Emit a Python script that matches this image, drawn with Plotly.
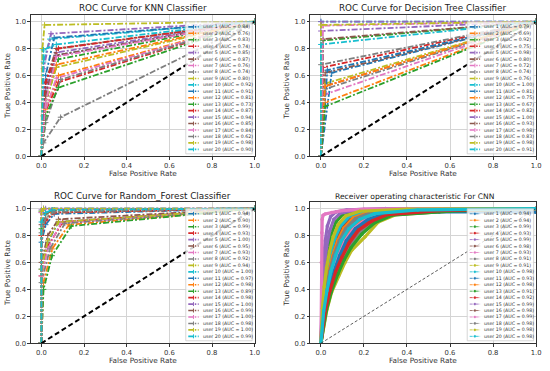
import plotly.graph_objects as go

W, H = 550, 371
FONT = "DejaVu Sans"

users = ["user %d" % i for i in range(1, 21)]
tab10 = ["#1f77b4", "#ff7f0e", "#2ca02c", "#d62728", "#9467bd",
         "#8c564b", "#e377c2", "#7f7f7f", "#bcbd22", "#17becf"]
colors = tab10 + tab10

titles = ["ROC Curve for KNN Classifier", "ROC Curve for Decision Tree Classifier",
          "ROC Curve for Random_Forest Classifier", "Receiver operating characteristic For CNN"]
x_label = "False Positive Rate"
y_label = "True Positive Rate"
tick_vals = [0.0, 0.2, 0.4, 0.6, 0.8, 1.0]
diag = [0.0, 1.0]

# ---------------- KNN ----------------
knn_auc = [0.84, 0.76, 0.83, 0.74, 0.85, 0.87, 0.76, 0.74, 0.80, 0.92,
           0.91, 0.81, 0.73, 0.87, 0.94, 0.85, 0.84, 0.62, 0.98, 0.90]
knn_fpr = [
    [0, 0.02, 0.07, 1], [0, 0.02, 0.08, 1], [0, 0.02, 0.08, 1], [0, 0.01, 0.08, 1],
    [0, 0.02, 0.07, 1], [0, 0.02, 0.07, 1], [0, 0.01, 0.07, 1], [0, 0.02, 0.09, 1],
    [0, 0.02, 0.07, 1], [0, 0.01, 0.04, 1], [0, 0.02, 0.06, 1], [0, 0.02, 0.07, 1],
    [0, 0.02, 0.08, 1], [0, 0.02, 0.08, 1], [0, 0.01, 0.045, 1], [0, 0.02, 0.07, 1],
    [0, 0.02, 0.07, 1], [0, 0.01, 0.09, 1], [0, 0.005, 0.015, 1], [0, 0.01, 0.07, 1]]
knn_tpr = [
    [0, 0.45, 0.75, 1], [0, 0.35, 0.60, 1], [0, 0.40, 0.72, 1], [0, 0.30, 0.55, 1],
    [0, 0.50, 0.77, 1], [0, 0.55, 0.80, 1], [0, 0.30, 0.58, 1], [0, 0.25, 0.57, 1],
    [0, 0.40, 0.66, 1], [0, 0.70, 0.87, 1], [0, 0.60, 0.88, 1], [0, 0.45, 0.68, 1],
    [0, 0.30, 0.51, 1], [0, 0.55, 0.80, 1], [0, 0.65, 0.91, 1], [0, 0.45, 0.75, 1],
    [0, 0.40, 0.74, 1], [0, 0.10, 0.29, 1], [0, 0.80, 0.975, 1], [0, 0.79, 0.83, 1]]

# ---------------- Decision tree ----------------
dt_auc = [0.79, 0.69, 0.92, 0.75, 0.98, 0.80, 0.72, 0.74, 0.76, 1.00,
          0.81, 0.75, 0.67, 0.82, 1.00, 0.93, 0.98, 0.83, 0.98, 0.91]
dt_fpr = [
    [0, 0.05, 1], [0, 0.02, 1], [0, 0.01, 1], [0, 0.02, 1], [0, 0.0, 1],
    [0, 0.02, 1], [0, 0.02, 1], [0, 0.02, 1], [0, 0.02, 1], [0, 0.0, 1],
    [0, 0.03, 1], [0, 0.02, 1], [0, 0.02, 1], [0, 0.01, 1], [0, 0.0, 1],
    [0, 0.01, 1], [0, 0.01, 1], [0, 0.0, 1], [0, 0.0, 1], [0, 0.0, 1]]
dt_tpr = [
    [0, 0.62, 1], [0, 0.40, 1], [0, 0.86, 1], [0, 0.52, 1], [0, 0.93, 1],
    [0, 0.62, 1], [0, 0.46, 1], [0, 0.50, 1], [0, 0.54, 1], [0, 1.00, 1],
    [0, 0.64, 1], [0, 0.52, 1], [0, 0.37, 1], [0, 0.66, 1], [0, 1.00, 1],
    [0, 0.87, 1], [0, 0.97, 1], [0, 0.68, 1], [0, 0.975, 1], [0, 0.83, 1]]

# ---------------- Random forest ----------------
rf_auc = [0.94, 0.90, 0.99, 0.93, 1.00, 0.95, 0.93, 0.92, 0.94, 1.00,
          0.97, 0.98, 0.89, 0.98, 1.00, 0.99, 1.00, 0.98, 1.00, 0.99]
rf_fpr = [
    [0, 0.0, 0.03, 0.08, 1], [0, 0.01, 0.05, 0.13, 1], [0, 0.0, 0.02, 0.06, 1],
    [0, 0.0, 0.03, 0.10, 1], [0, 0.0, 0.02, 1], [0, 0.0, 0.03, 0.08, 1],
    [0, 0.0, 0.03, 0.09, 1], [0, 0.0, 0.04, 0.11, 1], [0, 0.0, 0.03, 0.08, 1],
    [0, 0.0, 0.01, 1], [0, 0.0, 0.02, 0.06, 1], [0, 0.0, 0.02, 0.05, 1],
    [0, 0.01, 0.05, 0.14, 1], [0, 0.0, 0.02, 0.06, 1], [0, 0.0, 0.01, 1],
    [0, 0.0, 0.02, 0.05, 1], [0, 0.0, 0.01, 1], [0, 0.0, 0.02, 0.06, 1],
    [0, 0.0, 0.01, 1], [0, 0.0, 0.02, 0.05, 1]]
rf_tpr = [
    [0, 0.55, 0.75, 0.90, 1], [0, 0.45, 0.70, 0.88, 1], [0, 0.85, 0.96, 0.99, 1],
    [0, 0.50, 0.72, 0.90, 1], [0, 0.97, 1.0, 1], [0, 0.60, 0.80, 0.92, 1],
    [0, 0.50, 0.70, 0.89, 1], [0, 0.45, 0.70, 0.89, 1], [0, 0.55, 0.76, 0.90, 1],
    [0, 0.98, 1.0, 1], [0, 0.75, 0.88, 0.96, 1], [0, 0.80, 0.92, 0.97, 1],
    [0, 0.40, 0.65, 0.87, 1], [0, 0.80, 0.91, 0.97, 1], [0, 0.99, 1.0, 1],
    [0, 0.88, 0.96, 0.99, 1], [0, 0.97, 0.995, 1], [0, 0.82, 0.93, 0.975, 1],
    [0, 0.98, 1.0, 1], [0, 0.90, 0.97, 0.99, 1]]

# ---------------- CNN ----------------
cnn_auc = [0.94, 0.94, 0.99, 0.93, 0.99, 0.98, 0.93, 0.91, 0.91, 0.98,
           0.93, 0.98, 0.91, 0.92, 0.99, 0.98, 0.99, 0.98, 0.98, 0.98]
cnn_fpr = [
    [0, 0.014, 0.03, 0.05, 0.073, 0.10, 0.137, 0.19, 0.26, 0.50, 1],
    [0, 0.015, 0.032, 0.053, 0.077, 0.106, 0.145, 0.20, 0.27, 0.50, 1],
    [0, 0.006, 0.013, 0.022, 0.033, 0.048, 0.07, 0.10, 0.16, 0.35, 1],
    [0, 0.018, 0.039, 0.064, 0.092, 0.125, 0.168, 0.23, 0.30, 0.55, 1],
    [0, 0.004, 0.008, 0.014, 0.02, 0.03, 0.045, 0.07, 0.12, 0.30, 1],
    [0, 0.009, 0.02, 0.034, 0.05, 0.072, 0.10, 0.14, 0.21, 0.40, 1],
    [0, 0.016, 0.034, 0.056, 0.082, 0.112, 0.152, 0.21, 0.28, 0.50, 1],
    [0, 0.022, 0.046, 0.074, 0.105, 0.135, 0.18, 0.23, 0.30, 0.55, 1],
    [0, 0.028, 0.05, 0.082, 0.112, 0.143, 0.205, 0.267, 0.35, 0.60, 1],
    [0, 0.008, 0.018, 0.03, 0.045, 0.065, 0.09, 0.13, 0.20, 0.40, 1],
    [0, 0.017, 0.036, 0.06, 0.087, 0.118, 0.16, 0.22, 0.29, 0.55, 1],
    [0, 0.01, 0.022, 0.037, 0.055, 0.078, 0.107, 0.15, 0.22, 0.42, 1],
    [0, 0.025, 0.048, 0.078, 0.108, 0.14, 0.19, 0.25, 0.33, 0.60, 1],
    [0, 0.02, 0.042, 0.068, 0.098, 0.13, 0.175, 0.24, 0.31, 0.55, 1],
    [0, 0.005, 0.01, 0.018, 0.027, 0.04, 0.06, 0.09, 0.15, 0.35, 1],
    [0, 0.012, 0.026, 0.043, 0.064, 0.09, 0.122, 0.17, 0.24, 0.45, 1],
    [0, 0.002, 0.004, 0.006, 0.01, 0.02, 0.05, 0.10, 0.20, 0.40, 1],
    [0, 0.011, 0.024, 0.04, 0.06, 0.085, 0.115, 0.16, 0.23, 0.42, 1],
    [0, 0.007, 0.015, 0.026, 0.04, 0.057, 0.08, 0.115, 0.18, 0.40, 1],
    [0, 0.013, 0.028, 0.046, 0.068, 0.095, 0.13, 0.18, 0.25, 0.45, 1]]
cnn_tpr = [
    [0, 0.24, 0.39, 0.53, 0.65, 0.76, 0.85, 0.92, 0.96, 0.98, 0.975],
    [0, 0.24, 0.39, 0.53, 0.65, 0.76, 0.85, 0.92, 0.96, 0.985, 1],
    [0, 0.27, 0.44, 0.58, 0.70, 0.81, 0.90, 0.955, 0.985, 0.998, 1],
    [0, 0.24, 0.39, 0.53, 0.65, 0.76, 0.85, 0.92, 0.96, 0.985, 1],
    [0, 0.30, 0.50, 0.65, 0.76, 0.87, 0.94, 0.975, 0.99, 1.0, 1],
    [0, 0.25, 0.40, 0.54, 0.66, 0.77, 0.86, 0.93, 0.97, 0.99, 1],
    [0, 0.24, 0.39, 0.53, 0.65, 0.76, 0.85, 0.92, 0.96, 0.985, 1],
    [0, 0.24, 0.39, 0.53, 0.64, 0.73, 0.82, 0.89, 0.95, 0.98, 1],
    [0, 0.25, 0.38, 0.50, 0.60, 0.69, 0.79, 0.90, 0.955, 0.98, 1],
    [0, 0.25, 0.41, 0.55, 0.67, 0.78, 0.87, 0.94, 0.975, 0.995, 1],
    [0, 0.24, 0.39, 0.53, 0.65, 0.76, 0.85, 0.92, 0.955, 0.975, 0.975],
    [0, 0.24, 0.39, 0.53, 0.65, 0.76, 0.855, 0.93, 0.97, 0.99, 1],
    [0, 0.24, 0.38, 0.51, 0.62, 0.71, 0.81, 0.895, 0.95, 0.98, 1],
    [0, 0.24, 0.39, 0.53, 0.64, 0.74, 0.84, 0.91, 0.955, 0.985, 1],
    [0, 0.28, 0.45, 0.60, 0.72, 0.83, 0.92, 0.965, 0.985, 0.998, 1],
    [0, 0.24, 0.39, 0.53, 0.65, 0.76, 0.85, 0.925, 0.965, 0.99, 1],
    [0, 0.60, 0.82, 0.92, 0.95, 0.96, 0.97, 0.985, 0.995, 1.0, 1],
    [0, 0.24, 0.39, 0.53, 0.65, 0.76, 0.85, 0.925, 0.968, 0.99, 1],
    [0, 0.26, 0.42, 0.56, 0.68, 0.79, 0.88, 0.945, 0.98, 0.995, 1],
    [0, 0.24, 0.39, 0.53, 0.65, 0.76, 0.85, 0.92, 0.962, 0.99, 1]]

# ---------------- layout geometry (pixels) ----------------
cols = [(31, 257), (313, 541)]
rows = [(15, 158), (204, 347)]
panels = [(cols[0], rows[0]), (cols[1], rows[0]), (cols[0], rows[1]), (cols[1], rows[1])]


def px(v):
    return v / W


def py(v):
    return 1 - v / H


fig = go.Figure()
axis_ids = ["", "2", "3", "4"]

datasets = [(knn_fpr, knn_tpr, knn_auc), (dt_fpr, dt_tpr, dt_auc),
            (rf_fpr, rf_tpr, rf_auc), (cnn_fpr, cnn_tpr, cnn_auc)]

for p, (fprs, tprs, aucs) in enumerate(datasets):
    xa = "x" + axis_ids[p]
    ya = "y" + axis_ids[p]
    for i in range(20):
        c = colors[i]
        if p < 3:
            fig.add_trace(go.Scatter(
                x=fprs[i], y=tprs[i], mode="lines+markers", xaxis=xa, yaxis=ya,
                line=dict(color=c, width=1.8, dash="6px,2px,2px,2px"),
                marker=dict(symbol="cross-thin", size=4, color=c, line=dict(width=1, color=c)),
                showlegend=False, hoverinfo="skip"))
        else:
            fig.add_trace(go.Scatter(
                x=fprs[i], y=tprs[i], mode="lines+markers", xaxis=xa, yaxis=ya,
                line=dict(color=c, width=3.2),
                marker=dict(symbol="circle", size=3.5, color=c),
                showlegend=False, hoverinfo="skip"))
    if p < 3:
        fig.add_trace(go.Scatter(x=diag, y=diag, mode="lines", xaxis=xa, yaxis=ya,
                                 line=dict(color="black", width=2, dash="5px,3px"),
                                 showlegend=False, hoverinfo="skip"))
    else:
        fig.add_trace(go.Scatter(x=diag, y=diag, mode="lines", xaxis=xa, yaxis=ya,
                                 line=dict(color="#333333", width=0.8, dash="3px,2px"),
                                 showlegend=False, hoverinfo="skip"))

axis_common = dict(
    tickmode="array", tickvals=tick_vals, ticktext=["%.1f" % v for v in tick_vals],
    showgrid=True, gridcolor="#d4d4d4", gridwidth=0.8,
    showline=True, mirror=True, linecolor="#333333", linewidth=0.8,
    ticks="outside", ticklen=2.5, tickwidth=0.8, tickcolor="#333333",
    tickfont=dict(family=FONT, size=6.8, color="#333333"),
    zeroline=False, fixedrange=True)

layout = dict(width=W, height=H, margin=dict(l=0, r=0, t=0, b=0),
              paper_bgcolor="white", plot_bgcolor="white", showlegend=False)

for p, ((xl, xr), (yt, yb)) in enumerate(panels):
    sid = axis_ids[p]
    layout["xaxis" + sid] = dict(axis_common, domain=[px(xl), px(xr)], range=[-0.05, 1.0],
                                 anchor="y" + sid)
    layout["yaxis" + sid] = dict(axis_common, domain=[py(yb), py(yt)], range=[0.0, 1.05],
                                 anchor="x" + sid)

fig.update_layout(**layout)

shapes = []
annotations = []

# titles and axis labels
title_sizes = [8.8, 8.8, 8.8, 7.6]
title_x = [None, None, None, 418]
title_y = [8.3, 8.3, 198.3, 198.3]
for p, ((xl, xr), (yt, yb)) in enumerate(panels):
    cx = title_x[p] if title_x[p] is not None else (xl + xr) / 2
    annotations.append(dict(text=titles[p], x=px(cx), y=py(title_y[p]), xref="paper", yref="paper",
                            xanchor="center", yanchor="middle", showarrow=False, borderpad=0,
                            font=dict(family=FONT, size=title_sizes[p], color="#222222")))
    annotations.append(dict(text=x_label, x=px((xl + xr) / 2), y=py(yb + 17.5), xref="paper", yref="paper",
                            xanchor="center", yanchor="middle", showarrow=False, borderpad=0,
                            font=dict(family=FONT, size=7.3, color="#333333")))
    annotations.append(dict(text=y_label, x=px(xl - 23.5), y=py((yt + yb) / 2), xref="paper", yref="paper",
                            xanchor="center", yanchor="middle", showarrow=False, textangle=-90, borderpad=0,
                            font=dict(family=FONT, size=7.3, color="#333333")))

# custom legends
for p, ((xl, xr), (yt, yb)) in enumerate(panels):
    aucs = datasets[p][2]
    box_w = 67
    box_r = xr - 2.5
    box_b = yb - 2.5
    box_l = box_r - box_w
    step = 6.52
    last = box_b - 4.5
    first = last - 19 * step
    box_t = first - 5
    shapes.append(dict(type="rect", xref="paper", yref="paper",
                       x0=px(box_l), x1=px(box_r), y0=py(box_b), y1=py(box_t),
                       fillcolor="rgba(255,255,255,0.8)", line=dict(color="#cccccc", width=0.8),
                       layer="above"))
    for i in range(20):
        c = colors[i]
        yc = first + i * step
        h0, h1 = box_l + 2.5, box_l + 13
        hm = (h0 + h1) / 2
        if p < 3:
            shapes.append(dict(type="line", xref="paper", yref="paper",
                               x0=px(h0), x1=px(h1), y0=py(yc), y1=py(yc),
                               line=dict(color=c, width=1.6, dash="5px,1.5px,1.5px,1.5px"), layer="above"))
            shapes.append(dict(type="line", xref="paper", yref="paper",
                               x0=px(hm), x1=px(hm), y0=py(yc - 2), y1=py(yc + 2),
                               line=dict(color=c, width=1), layer="above"))
        else:
            shapes.append(dict(type="line", xref="paper", yref="paper",
                               x0=px(h0), x1=px(h1), y0=py(yc), y1=py(yc),
                               line=dict(color=c, width=0.8, dash="3px,1px,1px,1px"), layer="above"))
            shapes.append(dict(type="circle", xref="paper", yref="paper",
                               x0=px(hm - 1.1), x1=px(hm + 1.1), y0=py(yc - 1.1), y1=py(yc + 1.1),
                               fillcolor=c, line=dict(color=c, width=0.3), layer="above"))
        annotations.append(dict(text="%s (AUC = %.2f)" % (users[i], aucs[i]),
                                x=px(box_l + 16), y=py(yc), xref="paper", yref="paper",
                                xanchor="left", yanchor="middle", showarrow=False, borderpad=0,
                                font=dict(family=FONT, size=4.7, color="#333333")))

fig.update_layout(shapes=shapes, annotations=annotations)
fig.write_html("out.html", config={"displayModeBar": False},
               post_script="document.body.style.margin='0';document.body.style.padding='0';")
